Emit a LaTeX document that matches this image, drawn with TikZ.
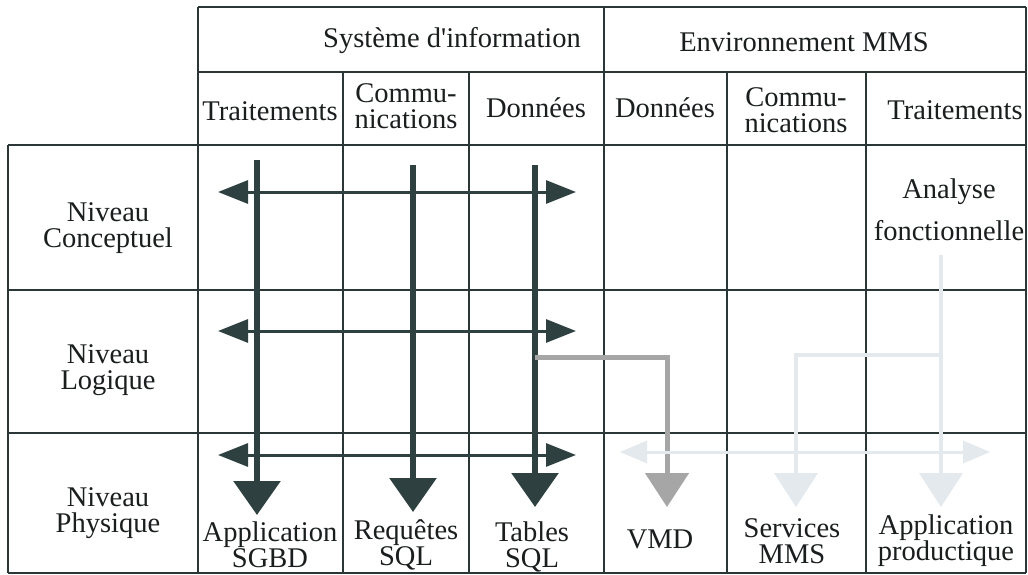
\documentclass[tikz,border=0pt]{standalone}
\usepackage{fontspec}
\setmainfont{Liberation Serif}[Ligatures=TeXOff]
\usetikzlibrary{arrows.meta}
\definecolor{gridc}{HTML}{2B3636}
\definecolor{darkarr}{HTML}{2E4040}
\definecolor{midgray}{HTML}{A6A6A6}
\definecolor{faint}{HTML}{E4E9EE}
\definecolor{txt}{HTML}{1A1E1E}
\begin{document}
\begin{tikzpicture}[x=1pt,y=-1pt,
  grid/.style={draw=gridc,line width=2.5pt},
  lbl/.style={inner sep=0pt,align=center,text=txt,font=\fontsize{28.5}{26}\selectfont},
  vdark/.style={draw=darkarr,line width=6pt,-{Triangle[width=46pt,length=34pt]}},
  hdark/.style={draw=darkarr,line width=3pt,{Triangle[width=23pt,length=30pt]}-{Triangle[width=23pt,length=30pt]}},
  vgray/.style={draw=midgray,line width=5pt,-{Triangle[width=43pt,length=34pt]}},
  vfaint/.style={draw=faint,line width=4pt,-{Triangle[width=43pt,length=34pt]}},
  hfaint/.style={draw=faint,line width=3pt,{Triangle[width=22pt,length=27pt]}-{Triangle[width=22pt,length=27pt]}}
]
\useasboundingbox (0,0) rectangle (1028,575);
\fill[white] (0,0) rectangle (1028,575);

% grid
\draw[grid] (198,7) -- (1026,7);
\draw[grid] (198,72) -- (1026,72);
\draw[grid] (8,145) -- (1026,145);
\draw[grid] (8,290) -- (1026,290);
\draw[grid] (8,433) -- (1026,433);
\draw[grid] (8,573) -- (1026,573);
\draw[grid] (8,145) -- (8,573);
\draw[grid] (198,7) -- (198,573);
\draw[grid] (604,7) -- (604,573);
\draw[grid] (1026,7) -- (1026,573);
\foreach \xx in {343,469,727,866} \draw[grid] (\xx,72) -- (\xx,573);

% header texts
\node[lbl] (si) at (452,41) {Système d'information};
\node[lbl] (env) at (804,42) {Environnement MMS};
\node[lbl] (h1) at (270,111) {Traitements};
\node[lbl] (h2) at (406,106) {Commu-\\nications};
\node[lbl] (h3) at (536,108) {Données};
\node[lbl] (h4) at (665,108) {Données};
\node[lbl] (h5) at (796,110) {Commu-\\nications};
\node[lbl] (h6) at (955,110) {Traitements};

% level labels
\node[lbl] (lc) at (108,228) {Niveau\\Conceptuel};
\node[lbl] (ll) at (108,370) {Niveau\\Logique};
\node[lbl] (lp) at (108,513) {Niveau\\Physique};

% cell texts
\node[lbl] (af) at (949,210) {Analyse\\[15pt]fonctionnelle};
\node[lbl] (appsgbd) at (270,545) {Application\\SGBD};
\node[lbl] (reqsql) at (406,545) {Requêtes\\SQL};
\node[lbl] (tabsql) at (532,547) {Tables\\SQL};
\node[lbl] (vmd) at (660,539) {VMD};
\node[lbl] (servmms) at (792,541) {Services\\MMS};
\node[lbl] (appprod) at (946,541) {Application\\productique};

% coordinates for connectors
\coordinate (cL) at (218,192); \coordinate (cR) at (576,192);
\coordinate (lL) at (218,331); \coordinate (lR) at (576,331);
\coordinate (pL) at (218,455); \coordinate (pR) at (576,455);
\coordinate (t0) at (257,160); \coordinate (t1) at (257,515);
\coordinate (c0) at (413,165); \coordinate (c1) at (413,512);
\coordinate (d0) at (535,165); \coordinate (d1) at (535,507);
\coordinate (g0) at (535,357); \coordinate (g1) at (667,357); \coordinate (g2) at (667,507);
\coordinate (f0) at (941,255); \coordinate (fb) at (941,355); \coordinate (f1) at (941,507);
\coordinate (s0) at (796,355); \coordinate (s1) at (796,507);
\coordinate (hL) at (620,452); \coordinate (hR) at (990,452);

% dark horizontal arrows
\draw[hdark] (cL) -- (cR);
\draw[hdark] (lL) -- (lR);
\draw[hdark] (pL) -- (pR);

% dark vertical arrows
\draw[vdark] (t0) -- (t1);
\draw[vdark] (c0) -- (c1);
\draw[vdark] (d0) -- (d1);

% gray connector to VMD
\draw[vgray] (g0) -- (g1) -- (g2);

% faint connectors
\draw[hfaint] (hL) -- (hR);
\draw[vfaint] (f0) -- (f1);
\draw[vfaint] (fb) -- (s0) -- (s1);
\end{tikzpicture}
\end{document}
